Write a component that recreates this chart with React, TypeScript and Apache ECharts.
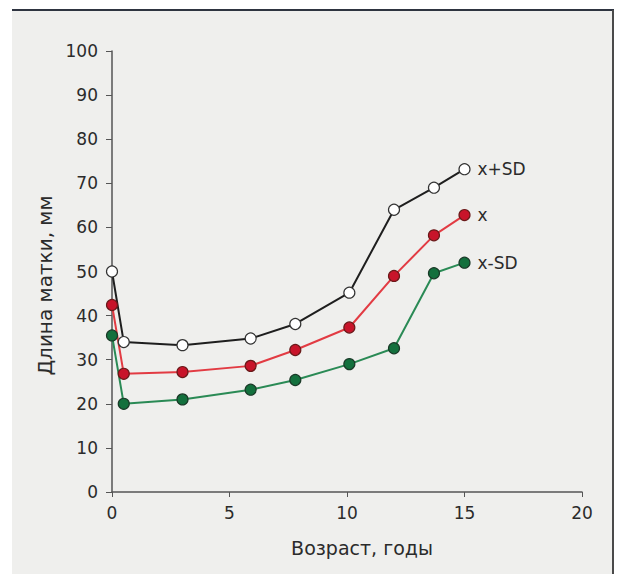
import React, { useEffect, useRef } from "react";
import * as echarts from "echarts";

const ages = [0, 0.5, 3, 5.9, 7.8, 10.1, 12, 13.7, 15];
const plusSD = [50, 34, 33.3, 34.8, 38.1, 45.2, 64, 69, 73.2];
const mean = [42.4, 26.8, 27.2, 28.6, 32.2, 37.3, 49, 58.2, 62.8];
const minusSD = [35.5, 20, 21, 23.2, 25.4, 29, 32.6, 49.6, 52];
const seriesNames = ["x+SD", "x", "x-SD"];
const xTicks = { min: 0, max: 20, interval: 5 };
const yTicks = { min: 0, max: 100, interval: 10 };

const FONT = "'DejaVu Sans', 'Liberation Sans', Arial, sans-serif";
const TXT = "#2b2b2b";

function pairs(ys: number[]) {
  return ages.map((a, i) => [a, ys[i]]);
}

export default function App() {
  const ref = useRef<HTMLDivElement>(null);
  useEffect(() => {
    if (!ref.current) return;
    const chart = echarts.init(ref.current, null, { renderer: "svg" });
    const mk = (
      name: string,
      data: number[],
      line: string,
      fill: string,
      border: string
    ) => ({
      name,
      type: "line",
      data: pairs(data),
      symbol: "circle",
      symbolSize: 11,
      lineStyle: { color: line, width: 2 },
      itemStyle: { color: fill, borderColor: border, borderWidth: 1.2 },
      endLabel: {
        show: true,
        formatter: name,
        distance: 13,
        fontFamily: FONT,
        fontSize: 17,
        color: TXT,
      },
      z: 3,
    });
    chart.setOption({
      animation: false,
      backgroundColor: "#ffffff",
      graphic: [
        {
          type: "rect",
          shape: { x: 12, y: 10, width: 601, height: 570 },
          style: { fill: "#efefed" },
          z: -10,
          silent: true,
        },
        {
          type: "line",
          shape: { x1: 12, y1: 10, x2: 614, y2: 10 },
          style: { stroke: "#2e3440", lineWidth: 2 },
          z: -9,
          silent: true,
        },
        {
          type: "line",
          shape: { x1: 613, y1: 10, x2: 613, y2: 574 },
          style: { stroke: "#4a4a4a", lineWidth: 2 },
          z: -9,
          silent: true,
        },
      ],
      grid: { left: 112, right: 42, top: 51, bottom: 82, containLabel: false },
      xAxis: {
        type: "value",
        ...xTicks,
        name: "Возраст, годы",
        nameLocation: "middle",
        nameGap: 46,
        nameTextStyle: { fontFamily: FONT, fontSize: 19, color: TXT, padding: [0, 0, 0, 30] },
        axisLine: { show: true, onZero: false, lineStyle: { color: "#555", width: 1.5 } },
        axisTick: { show: true, length: 5, lineStyle: { color: "#555" } },
        axisLabel: { fontFamily: FONT, fontSize: 17, color: TXT, margin: 12 },
        splitLine: { show: false },
      },
      yAxis: {
        type: "value",
        ...yTicks,
        name: "Длина матки, мм",
        nameLocation: "middle",
        nameGap: 56,
        nameTextStyle: { fontFamily: FONT, fontSize: 20, color: TXT, padding: [0, 28, 0, 0] },
        axisLine: { show: true, onZero: false, lineStyle: { color: "#555", width: 1.5 } },
        axisTick: { show: true, length: 6, lineStyle: { color: "#555" } },
        axisLabel: { fontFamily: FONT, fontSize: 17, color: TXT, margin: 14 },
        splitLine: { show: false },
      },
      series: [
        mk(seriesNames[0], plusSD, "#1e1e1e", "#ffffff", "#333333"),
        mk(seriesNames[1], mean, "#e23b43", "#c8142a", "#6a1a1a"),
        mk(seriesNames[2], minusSD, "#2a8a55", "#13703d", "#1a3a28"),
      ],
    });
    return () => chart.dispose();
  }, []);
  return <div ref={ref} style={{ width: 624, height: 574, position: "absolute", left: 0, top: 0 }} />;
}
